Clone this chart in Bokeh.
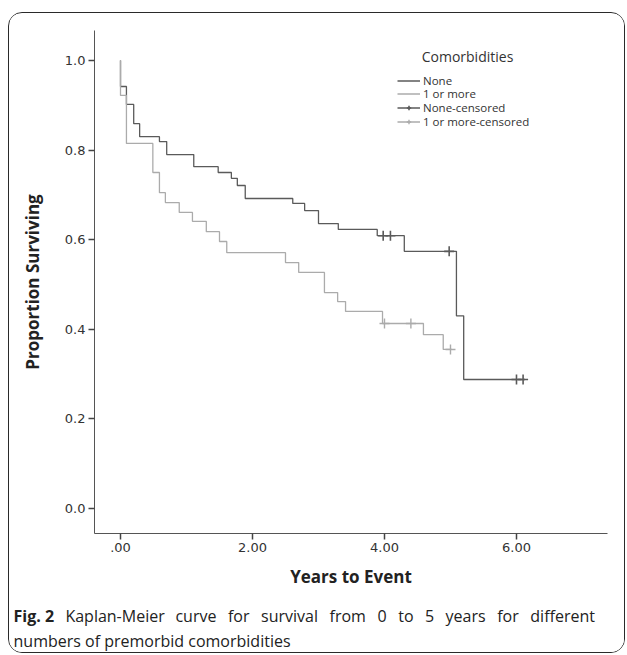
from bokeh.plotting import figure
from bokeh.layouts import column
from bokeh.models import (Legend, LegendItem, Label, FixedTicker, Range1d,
                          NumeralTickFormatter)
from bokeh.embed import file_html
from bokeh.resources import INLINE

# ---- data ----
none_t = [0.0, 0.0, 0.09, 0.20, 0.29, 0.59, 0.70, 1.11, 1.48, 1.68, 1.77, 1.89, 2.61, 2.79,
          3.00, 3.30, 3.89, 4.30, 5.09, 5.20, 6.13]
none_s = [1.0, 0.942, 0.902, 0.859, 0.830, 0.819, 0.790, 0.763, 0.750, 0.737, 0.721, 0.692,
          0.681, 0.665, 0.636, 0.623, 0.609, 0.574, 0.430, 0.288, 0.288]
more_t = [0.0, 0.0, 0.09, 0.49, 0.59, 0.68, 0.89, 1.09, 1.30, 1.50, 1.61, 2.50, 2.70, 3.09,
          3.29, 3.41, 3.97, 4.59, 4.89, 5.02]
more_s = [1.0, 0.922, 0.815, 0.750, 0.705, 0.683, 0.661, 0.641, 0.618, 0.596, 0.571, 0.549,
          0.527, 0.482, 0.462, 0.440, 0.413, 0.388, 0.355, 0.355]
none_cens_t = [3.98, 4.09, 4.98, 6.00, 6.10]
none_cens_s = [0.609, 0.609, 0.574, 0.288, 0.288]
more_cens_t = [4.00, 4.40, 5.00]
more_cens_s = [0.413, 0.413, 0.355]

x_ticks = [0, 2, 4, 6]
x_tick_labels = [".00", "2.00", "4.00", "6.00"]
y_ticks = [0.0, 0.2, 0.4, 0.6, 0.8, 1.0]
legend_labels = ["None", "1 or more", "None-censored", "1 or more-censored"]
legend_title = "Comorbidities"
caption_bold = "Fig. 2"
caption_line1_words = ["Kaplan-Meier", "curve", "for", "survival", "from", "0", "to", "5",
                       "years", "for", "different"]
# justified first line: left edge of each word, page pixels
caption_line1_x = [65.4, 175.4, 227.9, 261.0, 329.5, 377.5, 398.2, 425.0, 445.6, 497.2, 530.3]
caption_line2 = "numbers of premorbid comorbidities"

DARK = "#5a5a5a"
LIGHT = "#ababab"
TXT = "#333333"
FONT = "Open Sans"

p = figure(width=615, height=577, output_backend="svg", toolbar_location=None,
           x_range=Range1d(-0.394, 7.379), y_range=Range1d(-0.0558, 1.067),
           min_border_left=85, min_border_top=17, min_border_right=17, min_border_bottom=57)
p.outline_line_color = None
p.grid.visible = False
p.frame_align = False

r_none = p.step(none_t, none_s, mode="after", line_color=DARK, line_width=1.3)
r_more = p.step(more_t, more_s, mode="after", line_color=LIGHT, line_width=1.3)
r_nc = p.scatter(none_cens_t, none_cens_s, marker="cross", size=10, line_color=DARK, line_width=1.6)
r_mc = p.scatter(more_cens_t, more_cens_s, marker="cross", size=10, line_color=LIGHT, line_width=1.4)

for ax in (p.xaxis[0], p.yaxis[0]):
    ax.axis_line_color = "#555555"
    ax.major_tick_line_color = "#444444"
    ax.major_tick_line_width = 1.5
    ax.major_tick_out = 6
    ax.major_tick_in = 0
    ax.minor_tick_line_color = None
    ax.major_label_text_font = "DejaVu Sans"
    ax.major_label_text_font_size = "13px"
    ax.major_label_text_color = TXT
    ax.axis_label_text_font = FONT
    ax.axis_label_text_font_style = "bold"
    ax.axis_label_text_font_size = "17px"
    ax.axis_label_text_color = "#222222"

p.xaxis.ticker = FixedTicker(ticks=x_ticks)
p.xaxis.major_label_overrides = {t: l for t, l in zip(x_ticks, x_tick_labels)}
p.xaxis.axis_label = "Years to Event"
p.xaxis.axis_label_standoff = 10
p.xaxis.major_label_standoff = 3
p.yaxis.ticker = FixedTicker(ticks=y_ticks)
p.yaxis.formatter = NumeralTickFormatter(format="0.0")
p.yaxis.axis_label = "Proportion Surviving"
p.yaxis.axis_label_standoff = 18
p.yaxis.major_label_standoff = 3

# one legend per row so that rows can sit 14px apart as in the reference
rows = [
    (legend_labels[0], [r_none], 445.5),
    (legend_labels[1], [r_more], 432.0),
    (legend_labels[2], [r_none, r_nc], 418.0),
    (legend_labels[3], [r_more, r_mc], 404.5),
]
for lab, rends, ypos in rows:
    lg = Legend(items=[LegendItem(label=lab, renderers=rends)], location=(303, ypos))
    lg.background_fill_alpha = 0
    lg.border_line_color = None
    lg.padding = 0
    lg.margin = 0
    lg.spacing = 0
    lg.glyph_width = 23
    lg.glyph_height = 11
    lg.label_height = 11
    lg.label_standoff = 3
    lg.label_text_font = FONT
    lg.label_text_font_size = "11.5px"
    lg.label_text_color = TXT
    p.add_layout(lg, "center")

p.add_layout(Label(x=373, y=477, x_units="screen", y_units="screen", text=legend_title,
                   text_font=FONT, text_font_size="14px", text_color=TXT,
                   text_align="center", text_baseline="middle"))

# caption figure (its frame is its whole area)
cap = figure(width=615, height=62, output_backend="svg", toolbar_location=None,
             x_range=Range1d(0, 1), y_range=Range1d(0, 1),
             min_border=0, min_border_left=0, min_border_right=0,
             min_border_top=0, min_border_bottom=0,
             x_axis_location=None, y_axis_location=None)
cap.grid.visible = False
cap.outline_line_color = None
cap.frame_align = False
cap.add_layout(Label(x=4, y=37, x_units="screen", y_units="screen", text=caption_bold,
                     text_font=FONT, text_font_size="16px", text_font_style="bold",
                     text_color="#222222", text_baseline="middle"))
for w, xw in zip(caption_line1_words, caption_line1_x):
    cap.add_layout(Label(x=xw - 9.5, y=37, x_units="screen", y_units="screen", text=w,
                         text_font=FONT, text_font_size="16px", text_color="#222222",
                         text_baseline="middle"))
cap.add_layout(Label(x=4, y=12, x_units="screen", y_units="screen", text=caption_line2,
                     text_font=FONT, text_font_size="16px", text_color="#222222",
                     text_baseline="middle"))

layout = column(p, cap, spacing=0)
layout.styles = {"border": "1.5px solid #2a2a2a", "border-radius": "14px",
                 "margin-top": "12px", "margin-left": "8px", "overflow": "hidden"}

open("out.html", "w").write(file_html(layout, INLINE))
